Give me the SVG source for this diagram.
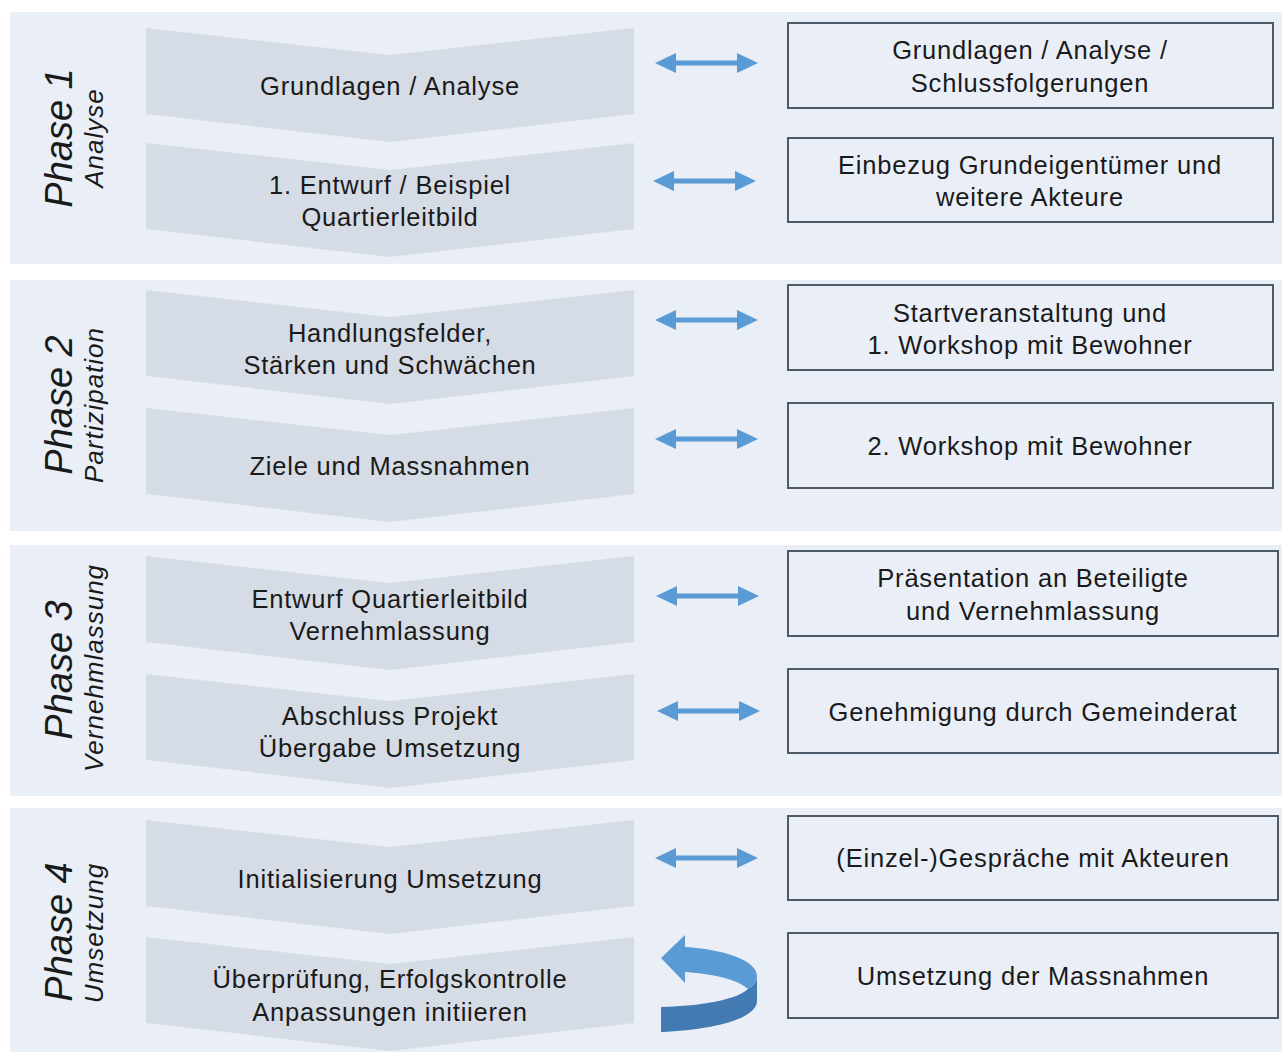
<svg xmlns="http://www.w3.org/2000/svg" xmlns:xlink="http://www.w3.org/1999/xlink" width="1282" height="1052" viewBox="0 0 1282 1052">
<style>
.panel{fill:#EAEFF7}
.chev{fill:#D6DCE5}
.box{fill:#EAEFF7;stroke:#4F5A69;stroke-width:2}
.t{font-family:"Liberation Sans",Arial,sans-serif;font-size:25.5px;letter-spacing:0.8px;fill:#1A1A1A;text-anchor:middle}
.ph{font-family:"Liberation Sans",Arial,sans-serif;font-size:38px;font-style:italic;fill:#1A1A1A;text-anchor:middle}
.sub{font-family:"Liberation Sans",Arial,sans-serif;font-size:26px;letter-spacing:1px;font-style:italic;fill:#1A1A1A;text-anchor:middle}
.arr{fill:#5B9BD5}
</style>
<defs>
<path id="chevron" d="M146,0 L390,27 L634,0 L634,86 L390,114 L146,86 Z"/>
<path id="darrow" d="M0,0 L21,-10 L21,-2.5 L82,-2.5 L82,-10 L103,0 L82,10 L82,2.5 L21,2.5 L21,10 Z"/>
</defs>
<rect width="1282" height="1052" fill="#FFFFFF"/>
<g id="panels">
<rect class="panel" x="10" y="12" width="1272" height="252"/>
<rect class="panel" x="10" y="280" width="1272" height="251"/>
<rect class="panel" x="10" y="545" width="1272" height="251"/>
<rect class="panel" x="10" y="808" width="1272" height="244"/>
</g>
<g id="phase1-label">
<text class="ph" transform="translate(72,138) rotate(-90)">Phase 1</text>
<text class="sub" transform="translate(103,138) rotate(-90)">Analyse</text>
</g>
<g id="phase2-label">
<text class="ph" transform="translate(72,405) rotate(-90)">Phase 2</text>
<text class="sub" transform="translate(103,405) rotate(-90)">Partizipation</text>
</g>
<g id="phase3-label">
<text class="ph" transform="translate(72,670) rotate(-90)">Phase 3</text>
<text class="sub" transform="translate(103,668) rotate(-90)">Vernehmlassung</text>
</g>
<g id="phase4-label">
<text class="ph" transform="translate(72,932) rotate(-90)">Phase 4</text>
<text class="sub" transform="translate(103,933) rotate(-90)">Umsetzung</text>
</g>
<g id="p1-step1"><use xlink:href="#chevron" class="chev" transform="translate(0,28)"/><text class="t" x="390" y="95">Grundlagen / Analyse</text></g>
<g id="p1-step2"><use xlink:href="#chevron" class="chev" transform="translate(0,143)"/><text class="t" x="390" y="194">1. Entwurf / Beispiel</text><text class="t" x="390" y="226">Quartierleitbild</text></g>
<g id="p2-step1"><use xlink:href="#chevron" class="chev" transform="translate(0,290)"/><text class="t" x="390" y="342">Handlungsfelder,</text><text class="t" x="390" y="374">Stärken und Schwächen</text></g>
<g id="p2-step2"><use xlink:href="#chevron" class="chev" transform="translate(0,408)"/><text class="t" x="390" y="475">Ziele und Massnahmen</text></g>
<g id="p3-step1"><use xlink:href="#chevron" class="chev" transform="translate(0,556)"/><text class="t" x="390" y="608">Entwurf Quartierleitbild</text><text class="t" x="390" y="640">Vernehmlassung</text></g>
<g id="p3-step2"><use xlink:href="#chevron" class="chev" transform="translate(0,674)"/><text class="t" x="390" y="725">Abschluss Projekt</text><text class="t" x="390" y="757">Übergabe Umsetzung</text></g>
<g id="p4-step1"><use xlink:href="#chevron" class="chev" transform="translate(0,820)"/><text class="t" x="390" y="888">Initialisierung Umsetzung</text></g>
<g id="p4-step2"><use xlink:href="#chevron" class="chev" transform="translate(0,937)"/><text class="t" x="390" y="988">Überprüfung, Erfolgskontrolle</text><text class="t" x="390" y="1021">Anpassungen initiieren</text></g>
<g id="p1-box1"><rect class="box" x="788" y="23" width="485" height="85"/><text class="t" x="1030" y="59">Grundlagen / Analyse /</text><text class="t" x="1030" y="92">Schlussfolgerungen</text></g>
<g id="p1-box2"><rect class="box" x="788" y="138" width="485" height="84"/><text class="t" x="1030" y="174">Einbezug Grundeigentümer und</text><text class="t" x="1030" y="206">weitere Akteure</text></g>
<g id="p2-box1"><rect class="box" x="788" y="285" width="485" height="85"/><text class="t" x="1030" y="322">Startveranstaltung und</text><text class="t" x="1030" y="354">1. Workshop mit Bewohner</text></g>
<g id="p2-box2"><rect class="box" x="788" y="403" width="485" height="85"/><text class="t" x="1030" y="455">2. Workshop mit Bewohner</text></g>
<g id="p3-box1"><rect class="box" x="788" y="551" width="490" height="85"/><text class="t" x="1033" y="587">Präsentation an Beteiligte</text><text class="t" x="1033" y="620">und Vernehmlassung</text></g>
<g id="p3-box2"><rect class="box" x="788" y="669" width="490" height="84"/><text class="t" x="1033" y="721">Genehmigung durch Gemeinderat</text></g>
<g id="p4-box1"><rect class="box" x="788" y="816" width="490" height="84"/><text class="t" x="1033" y="867">(Einzel-)Gespräche mit Akteuren</text></g>
<g id="p4-box2"><rect class="box" x="788" y="933" width="490" height="85"/><text class="t" x="1033" y="985">Umsetzung der Massnahmen</text></g>
<g id="connectors">
<use xlink:href="#darrow" class="arr" transform="translate(655,63)"/>
<use xlink:href="#darrow" class="arr" transform="translate(653,181)"/>
<use xlink:href="#darrow" class="arr" transform="translate(655,320)"/>
<use xlink:href="#darrow" class="arr" transform="translate(655,439)"/>
<use xlink:href="#darrow" class="arr" transform="translate(656,596)"/>
<use xlink:href="#darrow" class="arr" transform="translate(657,711)"/>
<use xlink:href="#darrow" class="arr" transform="translate(655,858)"/>
<g id="uturn-arrow">
<path fill="#447AB2" d="M748,989 C753,986 757,982 757,976 L757,1001 C757,1019 712,1030 661,1032 L661,1007 C703,1006 738,999 748,989 Z"/>
<path fill="#5B9BD5" d="M661,958 L685,935 L685,947 C722,949 757,960 757,976 C757,982 753,986 748,989 C740,981 718,974 685,972 L685,983 Z"/>
</g>
</g>
</svg>
